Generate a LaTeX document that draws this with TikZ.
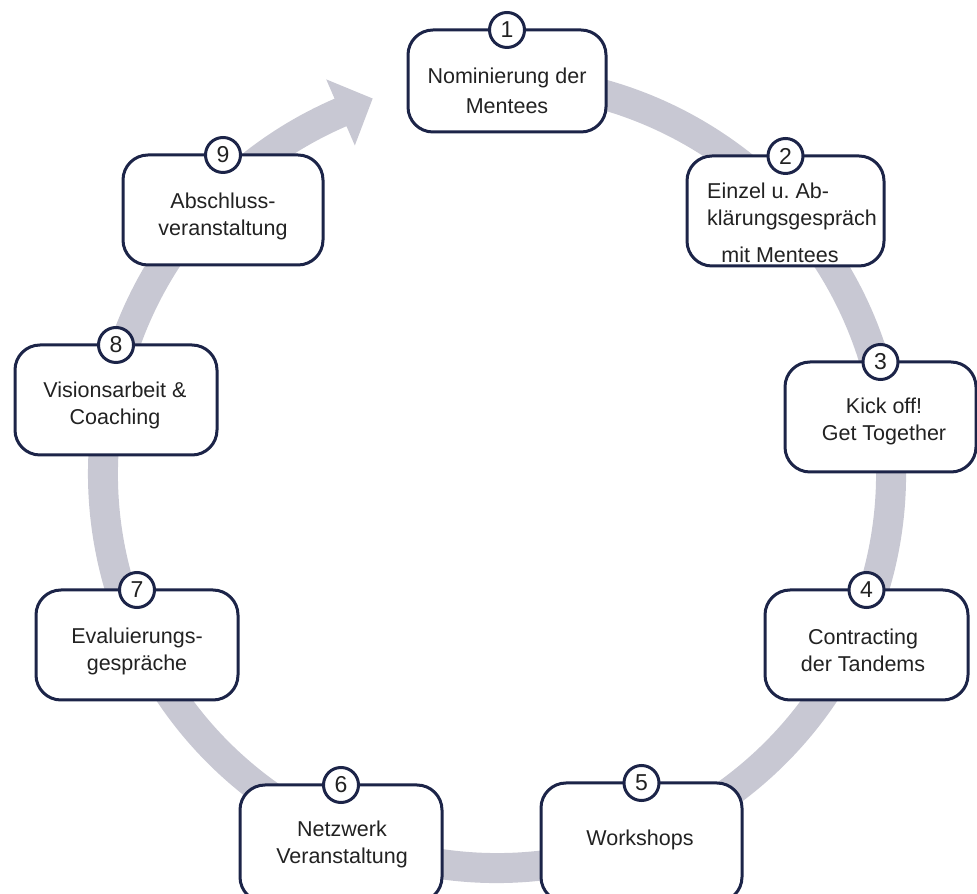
\documentclass[tikz,border=0pt]{standalone}
\usepackage{fontspec}
\setmainfont{Liberation Sans}
\usetikzlibrary{calc}
\definecolor{navy}{RGB}{28,36,72}
\definecolor{bandc}{RGB}{200,200,211}
\definecolor{txt}{RGB}{34,34,34}
\frenchspacing
\begin{document}
\begin{tikzpicture}[x=1pt,y=1pt,
  stepbox/.style={draw=navy, line width=3pt, fill=white, rounded corners=25pt, inner sep=0pt, outer sep=0pt},
  numcirc/.style={circle, draw=navy, line width=3pt, fill=white, minimum size=35pt, inner sep=0pt, font=\fontsize{23}{23}\selectfont, text=txt},
  lbl/.style={font=\fontsize{21.5}{27}\selectfont, text=txt, align=center, inner sep=0pt}]
\useasboundingbox (0,0) rectangle (977,894);
% ring arrow
\coordinate (C) at (497,420);
\fill[bandc] ($(C)+(100:409)$) arc[start angle=100, end angle=-246.6, radius=409pt]
  -- ($(C)+(113.4:430)$) -- ($(C)+(113.4:394)+(23.4:35)$) -- ($(C)+(113.4:358)$)
  -- ($(C)+(113.4:379)$) arc[start angle=-246.6, end angle=100, radius=379pt] -- cycle;
% boxes
\node[stepbox, minimum width=198pt, minimum height=102pt] (b1) at (507,813) {};
\node[stepbox, minimum width=197pt, minimum height=110pt] (b2) at (785.5,683) {};
\node[stepbox, minimum width=191pt, minimum height=110pt] (b3) at (880.5,477) {};
\node[stepbox, minimum width=203pt, minimum height=110pt] (b4) at (866.5,249) {};
\node[stepbox, minimum width=201pt, minimum height=119pt] (b5) at (641.5,51.5) {};
\node[stepbox, minimum width=202pt, minimum height=117pt] (b6) at (341,50.5) {};
\node[stepbox, minimum width=202pt, minimum height=110pt] (b7) at (137,249) {};
\node[stepbox, minimum width=202pt, minimum height=110pt] (b8) at (116,494) {};
\node[stepbox, minimum width=200pt, minimum height=110pt] (b9) at (223,684) {};
% labels
\node[lbl, font=\fontsize{21.5}{30}\selectfont] (t1) at (507,803.5) {Nominierung der\\Mentees};
\node[lbl, align=left, anchor=west] (t2) at (707,688) {Einzel u. Ab-\\klärungsgespräch};
\node[lbl] (t2b) at (780,639) {mit Mentees};
\node[lbl] (t3) at (884,472.5) {Kick off!\\Get Together};
\node[lbl] (t4) at (863,243.5) {Contracting\\der Tandems};
\node[lbl] (t5) at (640,54) {Workshops};
\node[lbl] (t6) at (342,50) {Netzwerk\\Veranstaltung};
\node[lbl] (t7) at (137,242.5) {Evaluierungs-\\gespräche};
\node[lbl] (t8) at (115,488.5) {Visionsarbeit \&\\Coaching};
\node[lbl] (t9) at (223,677.5) {Abschluss-\\veranstaltung};
% number circles
\node[numcirc] (n1) at (b1.north) {1};
\node[numcirc] (n2) at (b2.north) {2};
\node[numcirc] (n3) at (b3.north) {3};
\node[numcirc] (n4) at (b4.north) {4};
\node[numcirc] (n5) at (b5.north) {5};
\node[numcirc] (n6) at (b6.north) {6};
\node[numcirc] (n7) at (b7.north) {7};
\node[numcirc] (n8) at (b8.north) {8};
\node[numcirc] (n9) at (b9.north) {9};
\end{tikzpicture}
\end{document}
